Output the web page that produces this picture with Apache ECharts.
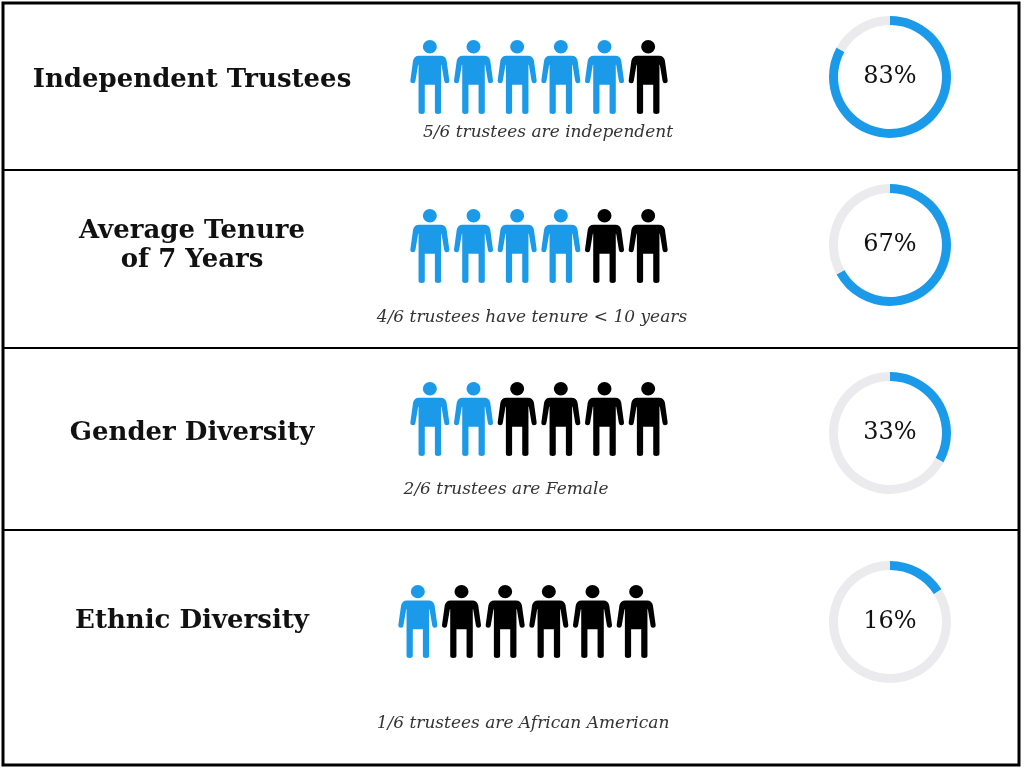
<!DOCTYPE html>
<html>
<head>
<meta charset="utf-8">
<script src="https://cdn.jsdelivr.net/npm/echarts@6/dist/echarts.min.js"></script>
<style>
  html, body { margin: 0; padding: 0; background: #fff; }
  #chart { width: 1024px; height: 768px; }
</style>
</head>
<body>
<div id="chart"></div>
<script>
var rowTitles = ["Independent Trustees", "Average Tenure\nof 7 Years", "Gender Diversity", "Ethnic Diversity"];
var rowNotes = ["5/6 trustees are independent", "4/6 trustees have tenure < 10 years", "2/6 trustees are Female", "1/6 trustees are African American"];
var highlighted = [5, 4, 2, 1];
var totals = [6, 6, 6, 6];
var percents = [83, 67, 33, 16];
var slots = ["1", "2", "3", "4", "5", "6"];

var blue = "#1a9ae8";
var grey = "#ebebed";
var person = "path://M32,20 A18,18 0 1,1 68,20 A18,18 0 1,1 32,20 Z M22,44 L78,44 Q90,44 93,57 L100,110 Q101,118 93,118 Q88,118 87,112 L80,68 L79,68 L79,194 Q79,200 71,200 Q63,200 63,194 L63,122 L37,122 L37,194 Q37,200 29,200 Q21,200 21,194 L21,68 L20,68 L13,112 Q12,118 7,118 Q-1,118 0,110 L7,57 Q10,44 22,44 Z";

// layout per row
var rowTop = [40, 209, 382, 585];
var iconLeft = [408, 408, 408, 396];
var iconH = [74, 74, 74, 73];
var donutY = [77, 245, 433, 622];
var titleY = [80, 246, 433, 621];
var noteX = [548, 532, 506, 523];
var noteY = [133, 318, 490, 724];

var grids = [], xAxes = [], yAxes = [], series = [], graphics = [];

rowTitles.forEach(function (t, i) {
  grids.push({ left: iconLeft[i], top: rowTop[i], width: 262, height: iconH[i] });
  xAxes.push({ type: "category", gridIndex: i, data: slots, show: false });
  yAxes.push({ type: "value", gridIndex: i, min: -1, max: 1, show: false });
  series.push({
    type: "scatter",
    xAxisIndex: i,
    yAxisIndex: i,
    symbol: person,
    symbolSize: [39, iconH[i]],
    silent: true,
    data: slots.slice(0, totals[i]).map(function (s, k) {
      return { value: [s, 0], itemStyle: { color: k < highlighted[i] ? blue : "#000", opacity: 1 } };
    })
  });
  series.push({
    type: "pie",
    center: [890, donutY[i]],
    radius: [52, 61],
    startAngle: 90,
    clockwise: true,
    silent: true,
    label: { show: false },
    labelLine: { show: false },
    data: [
      { value: percents[i], itemStyle: { color: blue } },
      { value: 100 - percents[i], itemStyle: { color: grey } }
    ]
  });
  graphics.push({
    type: "text", x: 192, y: titleY[i],
    style: { text: t, font: "bold 26px 'DejaVu Serif'", fill: "#111", align: "center", verticalAlign: "middle", lineHeight: 29 }
  });
  graphics.push({
    type: "text", x: noteX[i], y: noteY[i],
    style: { text: rowNotes[i], font: "italic 17px 'DejaVu Serif'", fill: "#333", align: "center", verticalAlign: "middle" }
  });
  graphics.push({
    type: "text", x: 890, y: donutY[i],
    style: { text: percents[i] + "%", font: "24px 'DejaVu Serif'", fill: "#111", align: "center", verticalAlign: "middle" }
  });
});

// frame and row separators
graphics.push({ type: "rect", shape: { x: 3, y: 3, width: 1016, height: 762 }, style: { fill: "none", stroke: "#000", lineWidth: 3 } });
[170, 348, 530].forEach(function (y) {
  graphics.push({ type: "line", shape: { x1: 3, y1: y, x2: 1019, y2: y }, style: { stroke: "#000", lineWidth: 2 } });
});

var myChart = echarts.init(document.getElementById("chart"));
myChart.setOption({
  animation: false,
  grid: grids,
  xAxis: xAxes,
  yAxis: yAxes,
  series: series,
  graphic: graphics
});
</script>
</body>
</html>
